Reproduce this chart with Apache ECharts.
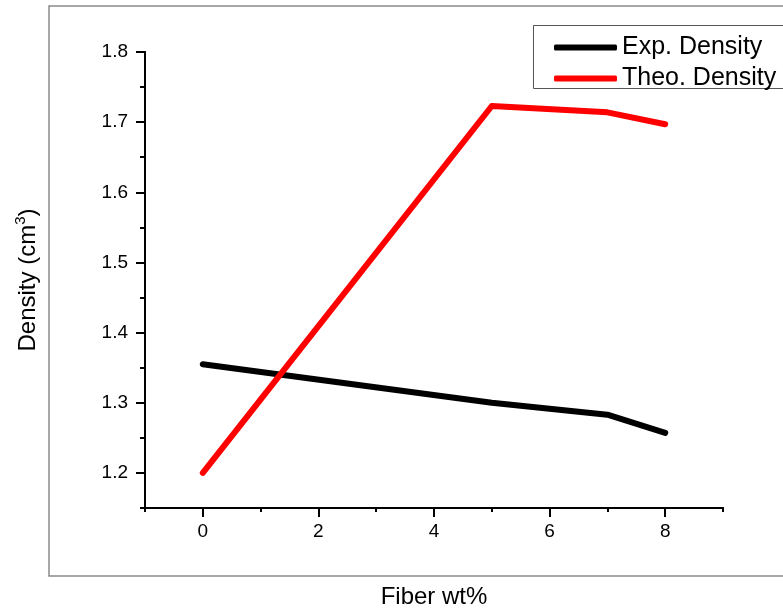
<!DOCTYPE html>
<html>
<head>
<meta charset="utf-8">
<script src="https://cdn.jsdelivr.net/npm/echarts@6/dist/echarts.min.js"></script>
<style>
  html, body { margin: 0; padding: 0; background: #fff; }
  #chart { width: 783px; height: 609px; }
</style>
</head>
<body>
<div id="chart"></div>
<script>
// Fiber content (wt%) and measured / theoretical composite density
const fiberWt = [0, 5, 7, 8];
const expDensity = [1.355, 1.300, 1.283, 1.257];
const theoDensity = [1.200, 1.723, 1.714, 1.697];

const seriesNames = ['Exp. Density', 'Theo. Density'];
const xMajorTicks = [0, 2, 4, 6, 8];
const yMajorTicks = [1.2, 1.3, 1.4, 1.5, 1.6, 1.7, 1.8];

const FONT = '"Liberation Sans", Arial, sans-serif';

const chart = echarts.init(document.getElementById('chart'));

const pairs = (xs, ys) => xs.map((x, i) => [x, ys[i]]);

const axisLine = { show: true, onZero: false, lineStyle: { color: '#000', width: 2 } };

chart.setOption({
  backgroundColor: '#fff',
  animation: false,
  textStyle: { fontFamily: FONT },
  grid: { left: 145, right: 60, top: 52, bottom: 101, containLabel: false, outerBoundsMode: 'none' },
  graphic: [
    // outer frame
    {
      type: 'rect', z: 0,
      shape: { x: 49, y: 6, width: 760, height: 570 },
      style: { fill: 'none', stroke: '#8a8a8a', lineWidth: 1.5 }
    },
    // legend box
    {
      type: 'rect', z: 5,
      shape: { x: 533.5, y: 25.5, width: 270, height: 63 },
      style: { fill: '#fff', stroke: '#555', lineWidth: 1 }
    }
  ],
  legend: {
    orient: 'vertical',
    left: 549,
    top: 30,
    z: 10,
    itemWidth: 63,
    itemHeight: 6,
    itemGap: 6,
    icon: 'roundRect',
    data: seriesNames,
    textStyle: { fontFamily: FONT, fontSize: 25, color: '#000', lineHeight: 25 }
  },
  xAxis: [
    {
      // minor ticks at every integer
      type: 'value', min: -1, max: 9, interval: 1,
      axisLine: axisLine,
      axisTick: { show: true, length: 4, lineStyle: { color: '#000', width: 2 } },
      axisLabel: { show: false },
      splitLine: { show: false }
    },
    {
      // major ticks and labels at even values
      type: 'value', min: -1, max: 9,
      position: 'bottom',
      axisLine: axisLine,
      axisTick: { show: true, length: 9, customValues: xMajorTicks, lineStyle: { color: '#000', width: 2 } },
      axisLabel: { show: true, customValues: xMajorTicks, fontSize: 19, color: '#000', margin: 14, fontFamily: FONT },
      splitLine: { show: false },
      name: 'Fiber wt%',
      nameLocation: 'middle',
      nameGap: 77,
      nameTextStyle: { fontSize: 24, color: '#000', fontFamily: FONT }
    }
  ],
  yAxis: [
    {
      type: 'value', min: 1.15, max: 1.8, interval: 0.05,
      axisLine: axisLine,
      axisTick: { show: true, length: 5, lineStyle: { color: '#000', width: 2 } },
      axisLabel: { show: false },
      splitLine: { show: false }
    },
    {
      type: 'value', min: 1.15, max: 1.8,
      position: 'left',
      axisLine: axisLine,
      axisTick: { show: true, length: 9, customValues: yMajorTicks, lineStyle: { color: '#000', width: 2 } },
      axisLabel: {
        show: true, customValues: yMajorTicks, fontSize: 19, color: '#000', margin: 17, fontFamily: FONT,
        formatter: v => v.toFixed(1)
      },
      splitLine: { show: false },
      name: '{a|Density (cm}{s|3}{a|)}',
      nameLocation: 'middle',
      nameGap: 102,
      nameTextStyle: {
        color: '#000', fontFamily: FONT,
        rich: {
          a: { fontSize: 24, color: '#000', fontFamily: FONT, lineHeight: 30 },
          s: { fontSize: 15, color: '#000', fontFamily: FONT, verticalAlign: 'top', lineHeight: 30 }
        }
      }
    }
  ],
  series: [
    {
      name: seriesNames[0],
      type: 'line',
      xAxisIndex: 0, yAxisIndex: 0,
      data: pairs(fiberWt, expDensity),
      showSymbol: false,
      symbol: 'none',
      color: '#000',
      lineStyle: { color: '#000', width: 6, cap: 'round', join: 'round' },
      z: 3
    },
    {
      name: seriesNames[1],
      type: 'line',
      xAxisIndex: 0, yAxisIndex: 0,
      data: pairs(fiberWt, theoDensity),
      showSymbol: false,
      symbol: 'none',
      color: '#ff0000',
      lineStyle: { color: '#ff0000', width: 6, cap: 'round', join: 'round' },
      z: 4
    }
  ]
});
</script>
</body>
</html>
